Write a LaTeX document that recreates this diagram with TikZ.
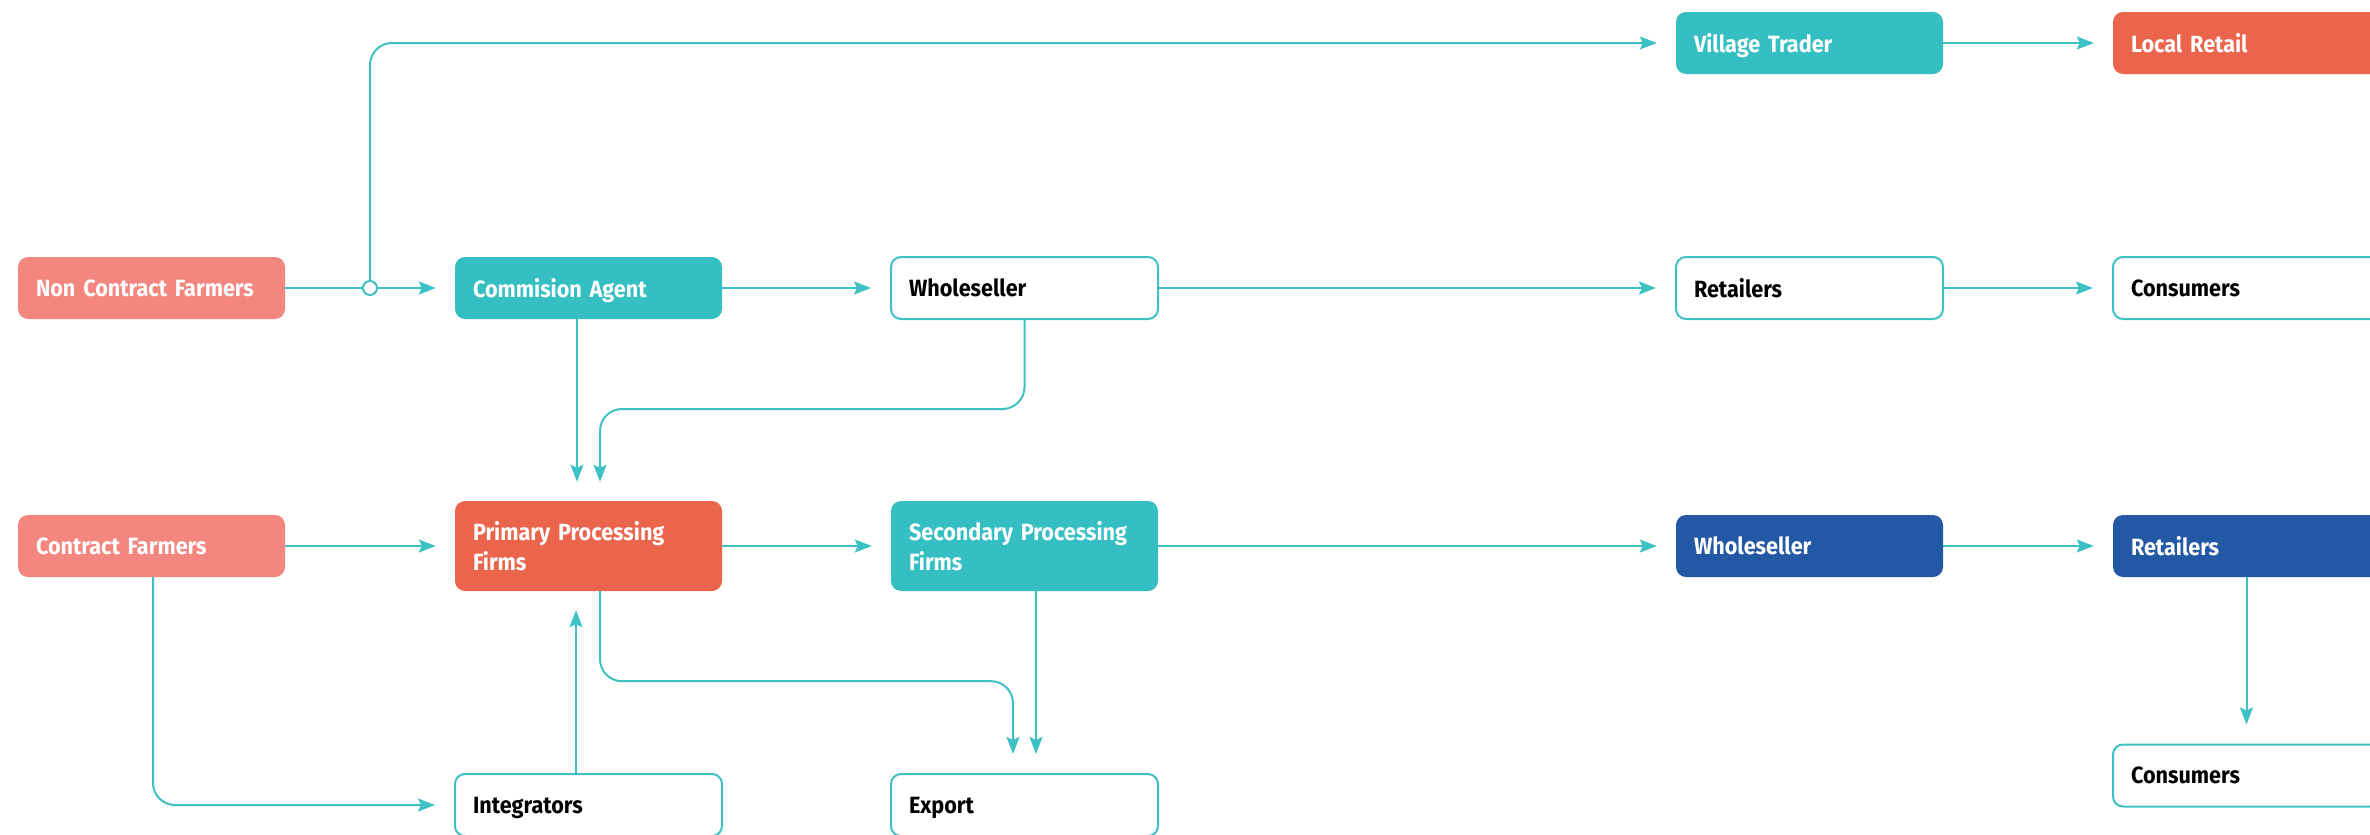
\documentclass[tikz,border=0pt]{standalone}
\usepackage{fontspec}
\setmainfont{Fira Sans}[FakeStretch=0.92]
\usetikzlibrary{arrows.meta}
\definecolor{salmon}{HTML}{F48680}
\definecolor{tealbox}{HTML}{36BFC3}
\definecolor{redbox}{HTML}{EB644C}
\definecolor{bluebox}{HTML}{2358A4}
\definecolor{linec}{HTML}{3EC1C4}
\tikzset{
  boxbase/.style={rectangle, rounded corners=10pt, minimum width=267pt, minimum height=62pt,
    text width=231pt, align=left, inner xsep=18pt, inner ysep=0pt,
    font=\bfseries\fontsize{23.5}{30}\selectfont},
  box/.style={boxbase, text depth=0pt},
  salmonbox/.style={box, fill=salmon, text=white},
  tbox/.style={box, fill=tealbox, text=white},
  rbox/.style={box, fill=redbox, text=white},
  bbox/.style={box, fill=bluebox, text=white},
  wbox/.style={box, fill=white, draw=linec, line width=2pt, text=black},
  tallbox/.style={boxbase, minimum height=90pt, text=white},
  conn/.style={draw=linec, line width=2pt, -{Stealth[length=17pt, width=13pt, inset=3pt]}, shorten >=19pt},
}
\begin{document}
\begin{tikzpicture}[x=1pt, y=-1pt]
\useasboundingbox (0,0) rectangle (2370,835);
% row 0
\node[tbox] (vt) at (1809.5,43) {Village Trader};
\node[rbox] (lr) at (2246.5,43) {Local Retail};
% row 1
\node[salmonbox] (ncf) at (151.5,288) {Non Contract Farmers};
\node[tbox] (ca) at (588.5,288) {Commision Agent};
\node[wbox] (ws1) at (1024.5,288) {Wholeseller};
\node[wbox] (ret1) at (1809.5,288) {Retailers};
\node[wbox] (con1) at (2246.5,288) {Consumers};
% row 2
\node[salmonbox] (cf) at (151.5,546) {Contract Farmers};
\node[tallbox, fill=redbox] (pp) at (588.5,546) {Primary Processing\\Firms};
\node[tallbox, fill=tealbox] (sp) at (1024.5,546) {Secondary Processing\\Firms};
\node[bbox] (ws2) at (1809.5,546) {Wholeseller};
\node[bbox] (ret2) at (2246.5,546) {Retailers};
% row 3
\node[wbox] (int) at (588.5,805) {Integrators};
\node[wbox] (exp) at (1024.5,805) {Export};
\node[wbox] (con2) at (2246.5,775.5) {Consumers};
% connectors
\coordinate (j) at (370,288);
\draw[conn] (ncf.east) -- (ca.west);
\node[circle, draw=linec, line width=2pt, fill=white, inner sep=0pt, minimum size=14pt] (jc) at (j) {};
\draw[conn, rounded corners=22pt] (jc.north) |- (vt.west);
\draw[conn] (vt.east) -- (lr.west);
\draw[conn] (ca.east) -- (ws1.west);
\draw[conn] (ws1.east) -- (ret1.west);
\draw[conn] (ret1.east) -- (con1.west);
\draw[conn] ([xshift=-11.5pt]ca.south) -- ([xshift=-11.5pt]pp.north);
\draw[conn, rounded corners=22pt] (ws1.south) -- ++(0,89) -| ([xshift=11.5pt]pp.north);
\draw[conn] (cf.east) -- (pp.west);
\draw[conn] (pp.east) -- (sp.west);
\draw[conn] (sp.east) -- (ws2.west);
\draw[conn] (ws2.east) -- (ret2.west);
\draw[conn] (ret2.south) -- (con2.north);
\draw[conn, rounded corners=22pt] ([xshift=1.5pt]cf.south) |- (int.west);
\draw[conn] ([xshift=-12.5pt]int.north) -- ([xshift=-12.5pt]pp.south);
\draw[conn, rounded corners=22pt] ([xshift=11.5pt]pp.south) -- ++(0,90) -| ([xshift=-11.5pt]exp.north);
\draw[conn] ([xshift=11.5pt]sp.south) -- ([xshift=11.5pt]exp.north);
\end{tikzpicture}
\end{document}
